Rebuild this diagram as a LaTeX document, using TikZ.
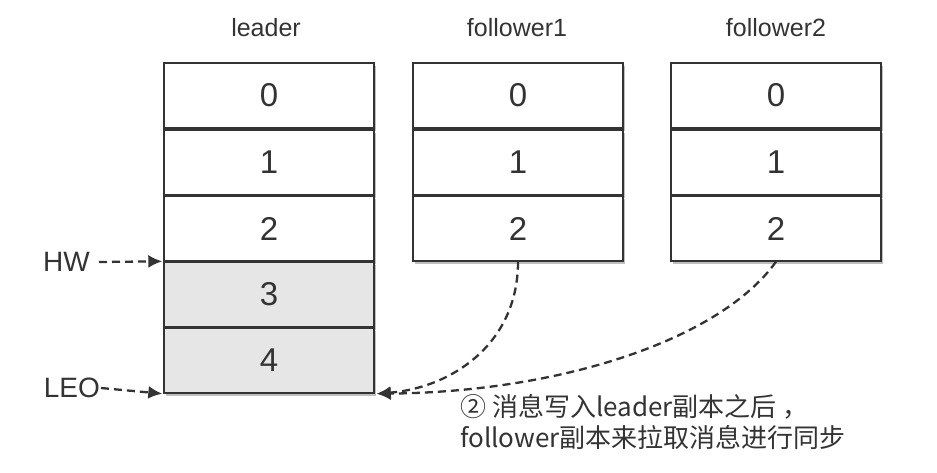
\documentclass[tikz,border=0pt]{standalone}
\usepackage{fontspec}
\setmainfont{Liberation Sans}
\newfontfamily\cjk{Noto Sans CJK SC}
\usetikzlibrary{shadows,arrows.meta}
\definecolor{edge}{HTML}{333333}
\definecolor{hot}{HTML}{E6E6E6}
\tikzset{
  cell/.style={draw=edge, line width=1.4pt, fill=white, minimum width=210pt, minimum height=65pt,
    inner sep=0pt, font=\fontsize{33}{36}\selectfont, text=black!80,
    drop shadow={shadow xshift=2pt, shadow yshift=-3pt, fill=black, opacity=0.25}},
  hot/.style={fill=hot},
  title/.style={font=\fontsize{25}{28}\selectfont, text=black!80},
  side/.style={font=\fontsize{28}{30}\selectfont, text=black!80, inner sep=1pt},
  ptr/.style={draw=edge, line width=2.3pt, dash pattern=on 8pt off 5pt, -{Latex[length=14pt,width=13pt]}},
}
\begin{document}
\begin{tikzpicture}[x=1pt,y=-1pt]
\useasboundingbox (0,0) rectangle (937,472);
% titles
\node[title] (tl) at (266,28) {leader};
\node[title] (t1) at (517,28) {follower1};
\node[title] (t2) at (776,28) {follower2};
% leader
\node[cell] (l0) at (269,95.5) {0};
\node[cell] (l1) at (269,162.5) {1};
\node[cell] (l2) at (269,228.5) {2};
\node[cell,hot] (l3) at (269,294.5) {3};
\node[cell,hot] (l4) at (269,360.5) {4};
% follower1
\node[cell] (a0) at (518,95.5) {0};
\node[cell] (a1) at (518,162.5) {1};
\node[cell] (a2) at (518,228.5) {2};
% follower2
\node[cell] (b0) at (776,95.5) {0};
\node[cell] (b1) at (776,162.5) {1};
\node[cell] (b2) at (776,228.5) {2};
% side labels
\node[side, anchor=east] (hw) at (91,262) {HW};
\node[side, anchor=east] (leo) at (101,388) {LEO};
\draw[ptr] (hw.east) ++(8pt,0) -- ([xshift=-1pt]l3.north west);
\draw[ptr] (leo.east) -- ([xshift=-1pt]l4.south west);
% sync curves
\draw[ptr] (a2.south) .. controls (518,345) and (450,388) .. ([xshift=2pt]l4.south east);
\draw[ptr] (b2.south) .. controls (720,340) and (560,392) .. ([xshift=2pt]l4.south east);
% annotation
\node[anchor=west, align=left, inner sep=0pt, font=\cjk\fontsize{26}{31}\selectfont, text=black!80] (note) at (460,422)
 {② 消息写入leader副本之后 ，\\follower副本来拉取消息进行同步};
\end{tikzpicture}
\end{document}
